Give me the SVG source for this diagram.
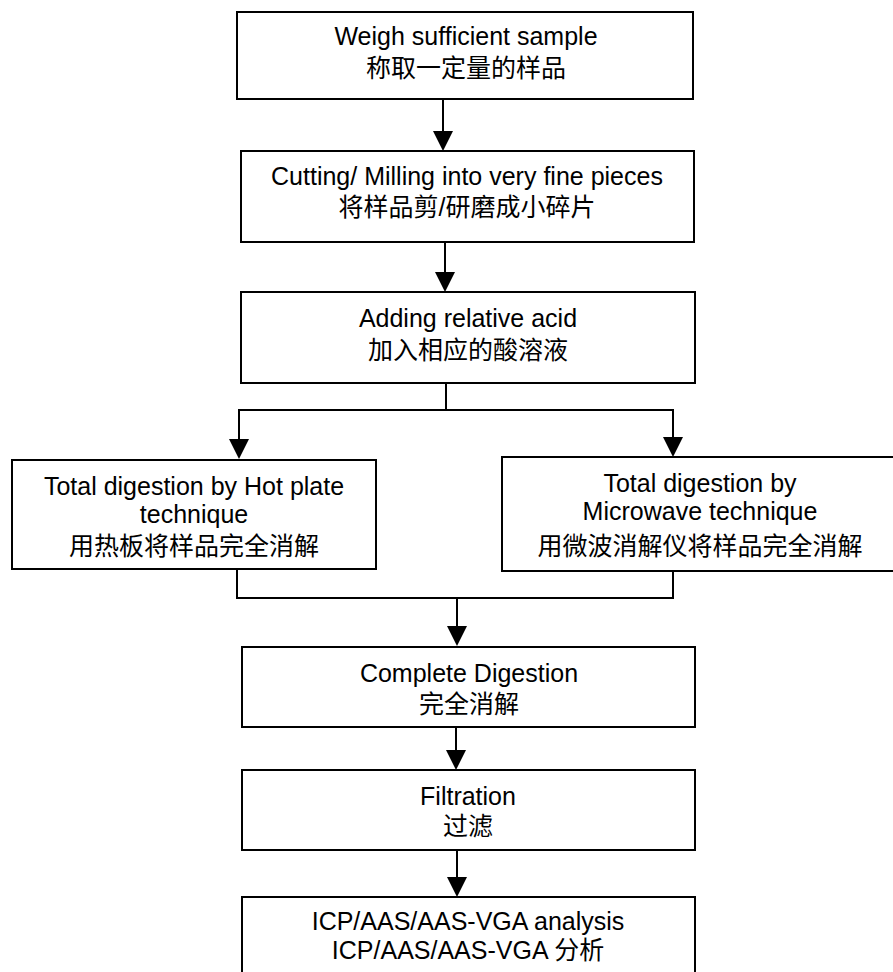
<svg xmlns="http://www.w3.org/2000/svg" width="893" height="972" viewBox="0 0 893 972">
<style>
.box{fill:#fff;stroke:#000;stroke-width:2}
.t{font-family:"Liberation Sans",Arial,"Noto Sans CJK SC",sans-serif;font-size:25px;fill:#000;text-anchor:middle}
.c{font-family:"Liberation Sans",Arial,"Noto Sans CJK SC",sans-serif;font-size:25px;fill:#000;text-anchor:middle}
.ln{fill:none;stroke:#000;stroke-width:2}
.ah{fill:#000}
</style>
<defs>
<polygon id="ah" points="-10,-20 10,-20 0,0"/>
</defs>
<rect width="893" height="972" fill="#fff"/>
<g id="connectors">
<line class="ln" x1="443" y1="99" x2="443" y2="133"/>
<use href="#ah" class="ah" x="443" y="151"/>
<line class="ln" x1="445" y1="242" x2="445" y2="274"/>
<use href="#ah" class="ah" x="445" y="292"/>
<polyline class="ln" points="446,383 446,410"/>
<polyline class="ln" points="239,440 239,410 673,410 673,440"/>
<use href="#ah" class="ah" x="239" y="459"/>
<use href="#ah" class="ah" x="673" y="457"/>
<polyline class="ln" points="237,569 237,598 673,598 673,571"/>
<line class="ln" x1="457" y1="598" x2="457" y2="628"/>
<use href="#ah" class="ah" x="457" y="646"/>
<line class="ln" x1="456" y1="727" x2="456" y2="752"/>
<use href="#ah" class="ah" x="456" y="770"/>
<line class="ln" x1="457" y1="850" x2="457" y2="879"/>
<use href="#ah" class="ah" x="457" y="897"/>
</g>
<g id="n1">
<rect class="box" x="237" y="12" width="456" height="87"/>
<text class="t" x="466" y="45">Weigh sufficient sample</text>
<text class="c" x="466" y="77">称取一定量的样品</text>
</g>
<g id="n2">
<rect class="box" x="241" y="151" width="453" height="91"/>
<text class="t" x="467" y="185">Cutting/ Milling into very fine pieces</text>
<text class="c" x="467" y="216">将样品剪/研磨成小碎片</text>
</g>
<g id="n3">
<rect class="box" x="241" y="292" width="454" height="91"/>
<text class="t" x="468" y="327">Adding relative acid</text>
<text class="c" x="468" y="359">加入相应的酸溶液</text>
</g>
<g id="n4">
<rect class="box" x="12" y="460" width="364" height="109"/>
<text class="t" x="194" y="495">Total digestion by Hot plate</text>
<text class="t" x="194" y="523">technique</text>
<text class="c" x="194" y="555">用热板将样品完全消解</text>
</g>
<g id="n5">
<rect class="box" x="502" y="457" width="400" height="114"/>
<text class="t" x="700" y="492">Total digestion by</text>
<text class="t" x="700" y="520">Microwave technique</text>
<text class="c" x="700" y="555">用微波消解仪将样品完全消解</text>
</g>
<g id="n6">
<rect class="box" x="242" y="647" width="453" height="80"/>
<text class="t" x="469" y="682">Complete Digestion</text>
<text class="c" x="469" y="713">完全消解</text>
</g>
<g id="n7">
<rect class="box" x="242" y="770" width="453" height="80"/>
<text class="t" x="468" y="805">Filtration</text>
<text class="c" x="468" y="835">过滤</text>
</g>
<g id="n8">
<rect class="box" x="242" y="897" width="453" height="90"/>
<text class="t" x="468" y="930">ICP/AAS/AAS-VGA analysis</text>
<text class="c" x="468" y="959">ICP/AAS/AAS-VGA 分析</text>
</g>
</svg>
